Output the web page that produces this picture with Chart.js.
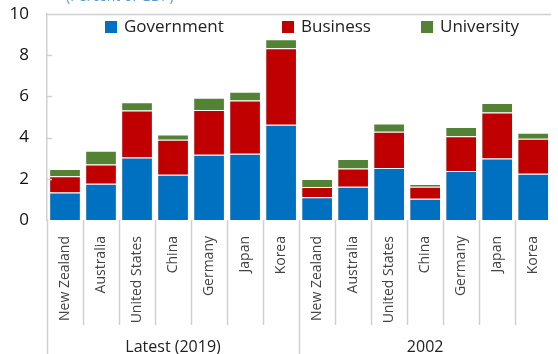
<!DOCTYPE html>
<html>
<head>
<meta charset="utf-8">
<script src="https://cdn.jsdelivr.net/npm/chart.js@4/dist/chart.umd.min.js"></script>
<style>
  html, body { margin: 0; padding: 0; background: #fff; }
  #wrap { width: 558px; height: 354px; }
</style>
</head>
<body>
<div id="wrap"><canvas id="myChart" width="558" height="354"></canvas></div>
<script>
// countries, repeated for the two periods
var countries = ['New Zealand', 'Australia', 'United States', 'China', 'Germany', 'Japan', 'Korea'];
var groups = ['Latest (2019)', '2002'];
var labels = countries.concat(countries);

// R&D spending by sector, percent of GDP (2019 first, then 2002)
var government = [1.34, 1.76, 3.04, 2.20, 3.17, 3.22, 4.62, 1.11, 1.62, 2.53, 1.03, 2.38, 2.99, 2.24];
var business   = [0.78, 0.93, 2.27, 1.70, 2.17, 2.58, 3.72, 0.49, 0.88, 1.76, 0.59, 1.69, 2.23, 1.71];
var university = [0.36, 0.67, 0.40, 0.25, 0.60, 0.42, 0.43, 0.39, 0.46, 0.40, 0.13, 0.45, 0.46, 0.28];

var yTicks = [0, 2, 4, 6, 8, 10];
var legendX = [105, 282, 421];

var extras = {
    id: 'extras',
    afterDraw: function(chart) {
        var ctx = chart.ctx;
        var x = chart.scales.x, y = chart.scales.y;
        var area = chart.chartArea;
        var half = (x.getPixelForValue(1) - x.getPixelForValue(0)) / 2;
        ctx.save();
        // top border of plot
        ctx.strokeStyle = '#d0d0d0';
        ctx.lineWidth = 1.5;
        ctx.beginPath();
        ctx.moveTo(area.left, area.top + 0.5);
        ctx.lineTo(area.right, area.top + 0.5);
        ctx.stroke();
        // small inner ticks on y axis
        yTicks.forEach(function(v) {
            if (v === 0 || v === 10) return;
            var py = Math.round(y.getPixelForValue(v)) + 0.5;
            ctx.beginPath();
            ctx.moveTo(area.left, py);
            ctx.lineTo(area.left + 5, py);
            ctx.stroke();
        });
        // category separators
        for (var i = 0; i < labels.length; i++) {
            var px = Math.round(x.getPixelForValue(i) - half) + 0.5;
            var bottom = (i % countries.length === 0) ? chart.height : area.bottom + 105;
            ctx.beginPath();
            ctx.moveTo(px, area.bottom);
            ctx.lineTo(px, bottom);
            ctx.stroke();
        }
        // group labels
        ctx.fillStyle = '#222';
        ctx.font = '16px "Open Sans", sans-serif';
        ctx.textAlign = 'center';
        ctx.textBaseline = 'alphabetic';
        groups.forEach(function(g, k) {
            var a = x.getPixelForValue(k * countries.length) - half;
            var b = x.getPixelForValue((k + 1) * countries.length - 1) + half;
            ctx.fillText(g, (a + b) / 2, 352);
        });
        // legend inside the plot
        ctx.textAlign = 'left';
        ctx.textBaseline = 'middle';
        ctx.font = '17px "Open Sans", sans-serif';
        chart.data.datasets.forEach(function(ds, k) {
            var lx = legendX[k];
            ctx.fillStyle = ds.backgroundColor;
            ctx.fillRect(lx, area.top + 7, 12, 12);
            ctx.fillStyle = '#222';
            ctx.fillText(ds.label, lx + 19, area.top + 13);
        });
        // clipped unit note at top
        ctx.fillStyle = '#5b9bd5';
        ctx.textBaseline = 'alphabetic';
        ctx.font = '14px "Open Sans", sans-serif';
        ctx.fillText('(Percent of GDP)', 66, 1);
        ctx.restore();
    }
};

new Chart(document.getElementById('myChart').getContext('2d'), {
    type: 'bar',
    data: {
        labels: labels,
        datasets: [
            { label: 'Government', data: government, backgroundColor: '#0070c0', borderColor: 'rgba(255,255,255,0.6)', borderWidth: 1 },
            { label: 'Business', data: business, backgroundColor: '#c00000', borderColor: 'rgba(255,255,255,0.6)', borderWidth: 1 },
            { label: 'University', data: university, backgroundColor: '#548235', borderColor: 'rgba(255,255,255,0.6)', borderWidth: 1 }
        ]
    },
    options: {
        responsive: false,
        animation: false,
        layout: { padding: { top: 14, left: 0, right: 0, bottom: 0 } },
        datasets: { bar: { barPercentage: 0.88, categoryPercentage: 1.0 } },
        plugins: {
            legend: { display: false },
            tooltip: { enabled: false }
        },
        scales: {
            x: {
                stacked: true,
                afterFit: function(scale) { scale.height = 134; },
                grid: { display: false },
                border: { display: false },
                ticks: {
                    minRotation: 90,
                    maxRotation: 90,
                    autoSkip: false,
                    padding: 8,
                    color: '#444',
                    font: { size: 14, family: '"Open Sans", sans-serif' }
                }
            },
            y: {
                stacked: true,
                min: 0,
                max: 10,
                afterFit: function(scale) {
                    scale.width = 47;
                    scale.paddingTop = 0;
                    scale.paddingBottom = 0;
                },
                afterBuildTicks: function(scale) {
                    scale.ticks = yTicks.map(function(v) { return { value: v }; });
                },
                grid: { display: false, drawTicks: false },
                border: { display: true, color: '#d0d0d0', width: 1.5 },
                ticks: {
                    padding: 18,
                    color: '#111',
                    font: { size: 17, family: '"Open Sans", sans-serif' }
                }
            }
        }
    },
    plugins: [extras]
});
</script>
</body>
</html>
